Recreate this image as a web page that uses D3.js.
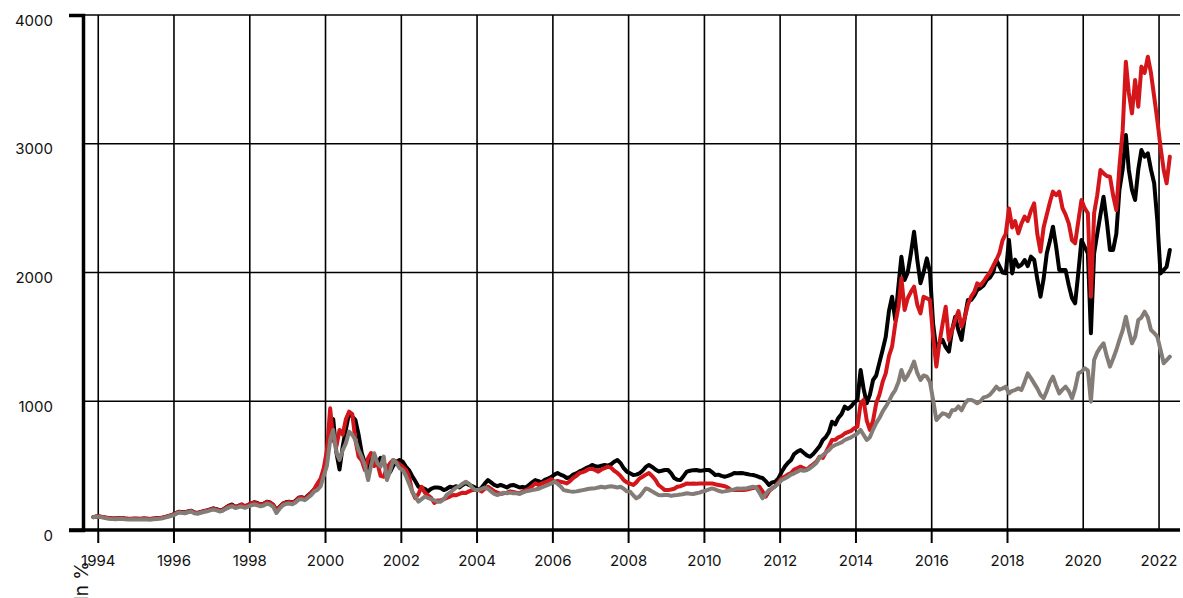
<!DOCTYPE html>
<html>
<head>
<meta charset="utf-8">
<script src="https://cdn.jsdelivr.net/npm/d3@7/dist/d3.min.js"></script>
<style>
  html, body { margin: 0; padding: 0; background: #fff; }
  svg { display: block; }
  text { font-family: Inter, "Noto Sans", sans-serif; fill: #111; }
</style>
</head>
<body>
<svg id="chart" width="1183" height="598"></svg>
<script>
// ---- data (monthly, starting Nov 1993) ----
const startYear = 1993, startMonth = 10; // November 1993 (0-based month)
const seriesBlack = [
  100, 105,
  104, 100, 96, 93, 90, 89, 91, 93, 89, 87, 86, 88,
  87, 86, 89, 87, 85, 88, 91, 93, 96, 102, 110, 118,
  128, 142, 140, 136, 144, 150, 137, 132, 140, 147, 152, 160,
  168, 162, 152, 158, 174, 190, 198, 180, 188, 194, 182, 194,
  205, 216, 210, 198, 205, 220, 214, 195, 155, 180, 205, 215,
  220, 214, 225, 250, 255, 245, 268, 290, 315, 345, 370, 450,
  560, 800, 862, 600, 470, 650, 780, 907, 880, 855, 740, 600,
  520, 470, 560, 500, 520, 560, 520, 480, 450, 500, 530, 544,
  530, 490, 466, 420, 380, 336, 330, 320, 300, 320, 330, 330,
  326, 310, 320, 336, 330, 340, 330, 350, 365, 350, 340, 330,
  311, 330, 360, 388, 370, 350, 340, 350, 340, 330, 345, 350,
  340, 330, 335, 330, 350, 370, 388, 380, 370, 390, 400, 410,
  430, 443, 430, 420, 404, 410, 430, 440, 455, 466, 480, 490,
  505, 495, 492, 500, 505, 500, 510, 530, 544, 520, 480, 453,
  440, 427, 430, 440, 460, 490, 505, 490, 470, 455, 460, 466,
  466, 440, 404, 390, 388, 420, 453, 460, 465, 466, 460, 462,
  466, 466, 450, 427, 430, 420, 414, 420, 430, 443, 440, 443,
  440, 435, 430, 427, 420, 410, 404, 380, 350, 370, 375, 400,
  450, 492, 520, 544, 590, 609, 621, 600, 580, 569, 590, 620,
  650, 699, 720, 760, 841, 820, 870, 900, 958, 940, 960, 990,
  1010, 1243, 1100, 984, 1050, 1165, 1200, 1300, 1398, 1500, 1700, 1812,
  1631, 1900, 2123, 1942, 2000, 2150, 2317, 2100, 1916, 2000, 2110, 2006,
  1600, 1398, 1450, 1476, 1420, 1385, 1550, 1657, 1550, 1476, 1650, 1786,
  1786, 1820, 1864, 1880, 1900, 1942, 1960, 2000, 2097, 2050, 2000, 1994,
  2252, 1993, 2100, 2045, 2060, 2097, 2050, 2123, 2100, 1950, 1812, 1950,
  2150, 2250, 2356, 2200, 2019, 2019, 2019, 1900, 1800, 1760, 2000, 2252,
  2200, 2149, 1528, 2149, 2300, 2450, 2589, 2400, 2175, 2175, 2300, 2641,
  2800, 3068, 2800, 2641, 2563, 2800, 2951, 2900, 2926, 2800, 2693, 2408,
  1993, 2019, 2045, 2175
];
const seriesRed = [
  100, 106,
  106, 102, 97, 94, 91, 90, 92, 94, 90, 88, 87, 89,
  88, 87, 90, 88, 86, 89, 92, 94, 97, 103, 110, 118,
  127, 140, 138, 135, 142, 148, 136, 131, 139, 146, 151, 158,
  166, 160, 151, 156, 172, 186, 192, 178, 186, 200, 185, 195,
  210, 212, 206, 196, 203, 218, 212, 193, 160, 178, 203, 212,
  218, 212, 222, 248, 252, 243, 264, 285, 320, 360, 400, 480,
  620, 945, 700, 650, 777, 740, 860, 919, 900, 700, 569, 540,
  466, 560, 598, 500, 520, 420, 414, 480, 520, 544, 530, 510,
  490, 466, 420, 300, 248, 280, 336, 290, 270, 250, 210, 230,
  230, 240, 250, 260, 272, 270, 280, 290, 287, 300, 310, 311,
  311, 300, 320, 336, 320, 300, 290, 280, 285, 290, 300, 295,
  290, 285, 300, 310, 320, 340, 362, 350, 360, 370, 380, 395,
  375, 380, 375, 370, 362, 380, 404, 420, 443, 450, 460, 474,
  474, 465, 453, 470, 480, 492, 485, 460, 443, 420, 388, 370,
  360, 350, 370, 400, 414, 430, 443, 420, 390, 350, 330, 310,
  310, 315, 320, 336, 340, 350, 362, 360, 362, 360, 362, 362,
  362, 362, 362, 355, 350, 345, 340, 330, 310, 310, 312, 310,
  310, 315, 320, 325, 330, 336, 300, 259, 300, 323, 340, 370,
  404, 414, 430, 443, 470, 480, 492, 480, 470, 492, 510, 530,
  569, 560, 600, 650, 699, 700, 720, 730, 750, 760, 770, 790,
  802, 984, 1010, 850, 777, 850, 984, 1050, 1150, 1217, 1350, 1424,
  1600, 1734, 1955, 1709, 1800, 1850, 1890, 1750, 1683, 1812, 1800, 1786,
  1500, 1269, 1450, 1600, 1734, 1476, 1550, 1631, 1700, 1579, 1650, 1750,
  1812, 1850, 1916, 1900, 1930, 1968, 2000, 2050, 2097, 2150, 2252, 2300,
  2498, 2350, 2400, 2304, 2380, 2434, 2400, 2480, 2537, 2300, 2162, 2350,
  2450, 2550, 2628, 2600, 2628, 2500, 2450, 2380, 2250, 2227, 2400, 2563,
  2500, 2460, 1812, 2460, 2600, 2796, 2770, 2750, 2744, 2600, 2485, 2822,
  3100, 3637, 3400, 3236, 3495, 3288, 3599, 3550, 3676, 3550, 3366, 3184,
  2977, 2796, 2693, 2900
];
const seriesGray = [
  100, 103,
  102, 97, 92, 88, 85, 84, 86, 88, 84, 82, 81, 83,
  82, 81, 84, 82, 80, 83, 86, 88, 92, 98, 105, 112,
  122, 136, 134, 130, 138, 144, 130, 126, 134, 140, 145, 152,
  158, 152, 144, 150, 164, 176, 184, 170, 178, 182, 172, 182,
  192, 198, 192, 184, 190, 205, 198, 180, 132, 165, 192, 202,
  205, 200, 212, 235, 240, 232, 250, 270, 300, 311, 340, 420,
  500, 700, 777, 600, 544, 620, 673, 764, 740, 700, 620, 569,
  500, 388, 500, 596, 520, 492, 570, 388, 460, 544, 520, 480,
  466, 420, 362, 300, 260, 220, 240, 259, 250, 240, 230, 220,
  220, 240, 272, 290, 311, 330, 340, 360, 375, 360, 330, 311,
  311, 320, 330, 320, 300, 280, 272, 280, 290, 285, 290, 285,
  285, 280, 290, 300, 305, 311, 315, 320, 330, 340, 350, 360,
  375, 360, 340, 310, 305, 300, 298, 300, 305, 310, 315, 320,
  323, 325, 330, 336, 330, 336, 340, 336, 330, 336, 320, 300,
  298, 270, 246, 260, 290, 323, 315, 300, 285, 272, 270, 272,
  272, 265, 270, 272, 275, 280, 285, 282, 280, 285, 290, 300,
  305, 315, 323, 315, 305, 298, 300, 305, 310, 315, 323, 320,
  323, 325, 330, 336, 330, 290, 246, 280, 310, 320, 340, 360,
  388, 400, 414, 430, 440, 453, 466, 460, 466, 480, 500, 520,
  560, 580, 600, 620, 647, 660, 670, 680, 699, 710, 720, 735,
  750, 777, 740, 699, 720, 780, 830, 870, 920, 958, 1000, 1050,
  1087, 1150, 1243, 1165, 1200, 1250, 1308, 1220, 1165, 1200, 1191, 1150,
  1010, 854, 880, 906, 900, 880, 930, 932, 960, 930, 980, 1010,
  1010, 1000, 984, 1000, 1030, 1036, 1050, 1080, 1113, 1090, 1100, 1113,
  1061, 1080, 1087, 1100, 1087, 1150, 1217, 1180, 1139, 1100, 1050, 1023,
  1080, 1150, 1191, 1120, 1061, 1090, 1113, 1080, 1023, 1100, 1217, 1230,
  1256, 1240, 997, 1320, 1380, 1420, 1450, 1350, 1269, 1330, 1398, 1476,
  1550, 1657, 1550, 1450, 1500, 1631, 1650, 1696, 1650, 1553, 1530, 1502,
  1400, 1295, 1320, 1346
];
const yTicks = [0, 1000, 2000, 3000, 4000];
const xTickYears = [1994, 1996, 1998, 2000, 2002, 2004, 2006, 2008, 2010, 2012, 2014, 2016, 2018, 2020, 2022];
const xTickMarkYears = [1994, 1996, 1998, 2000, 2002, 2004, 2006, 2008, 2010, 2012, 2014, 2016, 2018];
const yAxisLabel = "In %";

// ---- layout ----
const svg = d3.select("#chart");
const mLeft = 83, mRight = 1180, mTop = 15, mBottom = 530;

const x = d3.scaleTime()
  .domain([new Date(1993, 7, 7), new Date(2022, 6, 22)])
  .range([mLeft, mRight]);
const y = d3.scaleLinear().domain([0, 4000]).range([mBottom, mTop]);

const dateAt = i => new Date(startYear, startMonth + i, 15);

// grid
const grid = svg.append("g").attr("stroke", "#000").attr("stroke-width", 1.6);
grid.selectAll("line.v").data(xTickYears).join("line")
  .attr("x1", d => x(new Date(d, 0, 1))).attr("x2", d => x(new Date(d, 0, 1)))
  .attr("y1", mTop).attr("y2", mBottom);
grid.selectAll("line.h").data(yTicks.filter(d => d > 0)).join("line")
  .attr("x1", mLeft).attr("x2", mRight)
  .attr("y1", d => y(d)).attr("y2", d => y(d));

// x tick marks below axis
svg.append("g").attr("stroke", "#000").attr("stroke-width", 2)
  .selectAll("line").data(xTickMarkYears).join("line")
  .attr("x1", d => x(new Date(d, 0, 1))).attr("x2", d => x(new Date(d, 0, 1)))
  .attr("y1", mBottom).attr("y2", mBottom + 13);

// lines
const line = d3.line().x((d, i) => x(dateAt(i))).y(d => y(d)).curve(d3.curveLinear);
const series = [
  { values: seriesBlack, color: "#000000" },
  { values: seriesRed, color: "#d4161b" },
  { values: seriesGray, color: "#847d77" }
];
svg.append("g").selectAll("path").data(series).join("path")
  .attr("fill", "none")
  .attr("stroke", d => d.color)
  .attr("stroke-width", 4)
  .attr("stroke-linejoin", "round")
  .attr("stroke-linecap", "round")
  .attr("d", d => line(d.values));

// y axis (domain with outer ticks)
const yAxis = d3.axisLeft(y).tickValues(yTicks).tickSize(0).tickSizeOuter(14).tickFormat(d3.format("d"));
const gy = svg.append("g").attr("transform", `translate(${mLeft},0)`).call(yAxis);
gy.select(".domain").attr("stroke", "#000").attr("stroke-width", 3.5);
gy.selectAll(".tick text")
  .attr("x", -30).attr("dy", 0).attr("y", 10)
  .attr("text-anchor", "end")
  .style("font-family", "Inter, 'Noto Sans', sans-serif")
  .style("font-size", "15px").attr("fill", "#111");

// x axis line
svg.append("line").attr("x1", mLeft - 14).attr("x2", mRight)
  .attr("y1", mBottom).attr("y2", mBottom)
  .attr("stroke", "#000").attr("stroke-width", 3.5);

// x labels
svg.append("g").selectAll("text").data(xTickYears).join("text")
  .attr("x", d => x(new Date(d, 0, 1)))
  .attr("y", 566)
  .attr("text-anchor", "middle")
  .style("font-size", "15px")
  .text(d => d);

// axis title
svg.append("text")
  .attr("transform", "translate(88,561) rotate(-90)")
  .attr("text-anchor", "end")
  .style("font-size", "19px")
  .text(yAxisLabel);
</script>
</body>
</html>
